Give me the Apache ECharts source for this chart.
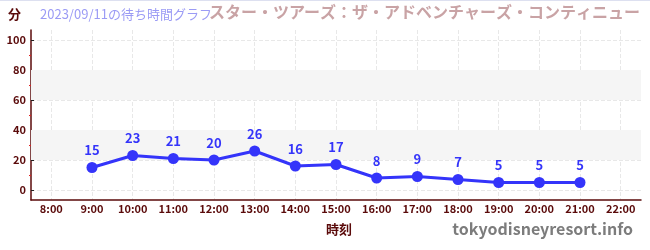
<!DOCTYPE html>
<html>
<head>
<meta charset="utf-8">
<script src="https://cdn.jsdelivr.net/npm/echarts@6/dist/echarts.min.js"></script>
<style>
  html, body { margin: 0; padding: 0; background: #fff; }
  #chart { width: 650px; height: 250px; }
</style>
</head>
<body>
<div id="chart"></div>
<script>
const hours = ['8:00', '9:00', '10:00', '11:00', '12:00', '13:00', '14:00', '15:00',
  '16:00', '17:00', '18:00', '19:00', '20:00', '21:00', '22:00']
const waitMinutes = [null, 15, 23, 21, 20, 26, 16, 17, 8, 9, 7, 5, 5, 5, null]
const yTicks = [0, 20, 40, 60, 80, 100]
const yMinorTicks = [10, 30, 50, 70, 90]
const bands = [[20, 40], [60, 80]]

const dark = '#5a0a0a'
const font = '"Noto Sans CJK JP", "Noto Sans", sans-serif'

const chart = echarts.init(document.getElementById('chart'))
chart.setOption({
  animation: false,
  textStyle: { fontFamily: font },
  grid: { left: 31, right: 9, top: 30, bottom: 50 },
  graphic: [
    { type: 'line', shape: { x1: 0, y1: 0.5, x2: 650, y2: 0.5 }, style: { stroke: '#dde0f0', lineWidth: 1 } },
    { type: 'text', left: 8, top: 8, style: { text: '分', fontSize: 13, fontWeight: 'bold', fill: dark, fontFamily: font } },
    { type: 'text', left: 40, top: 8, style: { text: '2023/09/11の待ち時間グラフ', fontSize: 13, fill: '#9b9bf5', fontFamily: font } },
    { type: 'text', right: 10, top: 4, style: { text: 'スター・ツアーズ：ザ・アドベンチャーズ・コンティニュー', fontSize: 16, fontWeight: 'bold', fill: '#c9a3a5', fontFamily: font } },
    { type: 'text', left: 326, top: 223, style: { text: '時刻', fontSize: 13, fontWeight: 'bold', fill: dark, fontFamily: font } },
    { type: 'text', right: 17, top: 221, style: { text: 'tokyodisneyresort.info', fontSize: 16, fontWeight: 'bold', fill: '#7c7c7c', fontFamily: font } }
  ],
  xAxis: {
    type: 'category',
    data: hours,
    boundaryGap: true,
    axisLine: { onZero: false, lineStyle: { color: dark, width: 1.5 } },
    axisTick: { alignWithLabel: true, inside: true, length: 3, lineStyle: { color: '#333' } },
    axisLabel: { color: dark, fontSize: 11, fontWeight: 'bold', margin: 3 },
    splitLine: { show: true, alignWithLabel: true, lineStyle: { color: '#e8e8e8', type: 'dashed' } }
  },
  yAxis: [{
    type: 'value',
    min: -20 / 3,
    max: 100 + 20 / 3,
    axisLine: { show: true, lineStyle: { color: dark, width: 1.5 } },
    axisTick: { show: true, inside: true, length: 3, customValues: yTicks, lineStyle: { color: '#222' } },
    axisLabel: { color: dark, fontSize: 11, fontWeight: 'bold', margin: 5, customValues: yTicks },
    splitLine: { show: true, lineStyle: { color: '#e8e8e8', type: 'dashed' } }
  }, {
    type: 'value',
    position: 'left',
    min: -20 / 3,
    max: 100 + 20 / 3,
    axisLine: { show: false },
    axisTick: { show: true, length: 2, customValues: yMinorTicks, lineStyle: { color: '#e02020' } },
    axisLabel: { show: false },
    splitLine: { show: false }
  }],
  series: [{
    type: 'line',
    data: waitMinutes,
    color: '#3434fa',
    lineStyle: { width: 3 },
    symbol: 'circle',
    symbolSize: 11,
    label: { show: true, position: 'top', distance: 5, color: '#3434fa', fontSize: 13, fontWeight: 'bold' },
    markArea: {
      silent: true,
      itemStyle: { color: '#f5f5f5' },
      data: bands.map(b => [{ yAxis: b[0] }, { yAxis: b[1] }])
    },
    z: 5
  }]
})
</script>
</body>
</html>
